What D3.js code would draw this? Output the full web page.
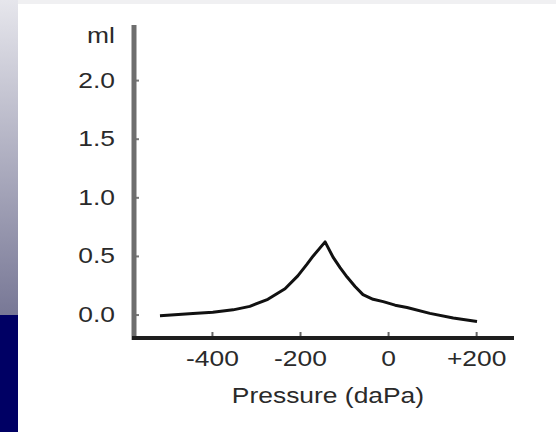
<!DOCTYPE html>
<html>
<head>
<meta charset="utf-8">
<script src="https://cdn.jsdelivr.net/npm/d3@7"></script>
<style>
  body { margin: 0; background: #fff; }
  text { font-family: 'Liberation Sans', Arial, sans-serif; fill: #2a2a2a; }
</style>
</head>
<body>
<div id="chart"></div>
<script>
// Pressure (daPa) and compliance (ml)
const pressure = [-518, -443, -398, -352, -314, -273, -234, -205, -184, -170, -143,
  -125, -109, -93, -75, -57, -34, -11, 16, 43, 95, 148, 202];
const volume = [-0.01, 0.01, 0.02, 0.04, 0.07, 0.13, 0.22, 0.33, 0.43, 0.5, 0.62,
  0.49, 0.4, 0.32, 0.24, 0.17, 0.13, 0.11, 0.08, 0.06, 0.01, -0.03, -0.06];
const xTicks = [-400, -200, 0, 200];
const yTicks = [0, 0.5, 1.0, 1.5, 2.0];
const yUnit = 'ml';
const xTitle = 'Pressure (daPa)';

const totalWidth = 556;
const totalHeight = 432;
const stretch = 1.2; // the scanned lettering is wider than normal

const svg = d3
  .select('#chart')
  .append('svg')
  .attr('width', totalWidth)
  .attr('height', totalHeight);

// Slide background: gradient strip on the left, navy block under it
const defs = svg.append('defs');
const grad = defs
  .append('linearGradient')
  .attr('id', 'side')
  .attr('x1', 0).attr('y1', 0).attr('x2', 0).attr('y2', 1);
grad.append('stop').attr('offset', '0%').attr('stop-color', '#e6e6ec');
grad.append('stop').attr('offset', '100%').attr('stop-color', '#787896');

svg.append('rect').attr('x', 0).attr('y', 0).attr('width', totalWidth).attr('height', 4).attr('fill', '#f0f0f2');
svg.append('rect').attr('x', 0).attr('y', 0).attr('width', 18).attr('height', 315).attr('fill', 'url(#side)');
svg.append('rect').attr('x', 0).attr('y', 315).attr('width', 18).attr('height', totalHeight - 315).attr('fill', '#000064');

const xScale = d3.scaleLinear().domain([-577, 286]).range([134, 514]);
const yScale = d3.scaleLinear().domain([-0.2, 2.47]).range([338, 25]);

// Y axis
const yAxis = svg
  .append('g')
  .attr('transform', `translate(${xScale.range()[0]},0)`)
  .call(
    d3.axisLeft(yScale)
      .tickValues(yTicks)
      .tickFormat(d3.format('.1f'))
      .tickSize(-5)
      .tickPadding(19)
  );
yAxis.select('.domain').remove();
yAxis.selectAll('.tick line').attr('stroke', '#777').attr('stroke-width', 2);
yAxis.selectAll('text').style('font-size', '22px').attr('fill', '#333');

svg
  .append('line')
  .attr('x1', xScale.range()[0])
  .attr('x2', xScale.range()[0])
  .attr('y1', yScale.range()[1])
  .attr('y2', yScale.range()[0] + 2)
  .attr('stroke', '#6e6e6e')
  .attr('stroke-width', 5);

svg
  .append('text')
  .attr('text-anchor', 'end')
  .attr('x', xScale.range()[0] - 19)
  .attr('y', 43)
  .style('font-size', '22px')
  .attr('fill', '#333')
  .text(yUnit);

// X axis
const xAxis = svg
  .append('g')
  .attr('transform', `translate(0,${yScale.range()[0]})`)
  .call(
    d3.axisBottom(xScale)
      .tickValues(xTicks)
      .tickFormat((d) => (d > 0 ? `+${d}` : `${d}`))
      .tickSize(-6)
      .tickPadding(12)
  );
xAxis.select('.domain').remove();
xAxis.selectAll('.tick line').attr('stroke', '#666').attr('stroke-width', 2);
xAxis.selectAll('text').style('font-size', '22px').attr('fill', '#333');

svg
  .append('line')
  .attr('x1', xScale.range()[0] - 2)
  .attr('x2', xScale.range()[1])
  .attr('y1', yScale.range()[0])
  .attr('y2', yScale.range()[0])
  .attr('stroke', '#1e1e1e')
  .attr('stroke-width', 4);

// X axis title
svg
  .append('text')
  .attr('text-anchor', 'middle')
  .attr('x', 328)
  .attr('y', 403)
  .style('font-size', '22px')
  .attr('fill', '#222')
  .text(xTitle);

// Curve
const points = pressure.map((p, i) => [p, volume[i]]);
const line = d3
  .line()
  .x((d) => xScale(d[0]))
  .y((d) => yScale(d[1]))
  .curve(d3.curveLinear);

svg
  .append('path')
  .datum(points)
  .attr('d', line)
  .attr('fill', 'none')
  .attr('stroke', '#111')
  .attr('stroke-width', 3)
  .attr('stroke-linejoin', 'round');

// Widen all lettering like in the scan
svg.selectAll('text').each(function () {
  const w = this.getComputedTextLength();
  d3.select(this)
    .attr('textLength', w * stretch)
    .attr('lengthAdjust', 'spacingAndGlyphs');
});
</script>
</body>
</html>
